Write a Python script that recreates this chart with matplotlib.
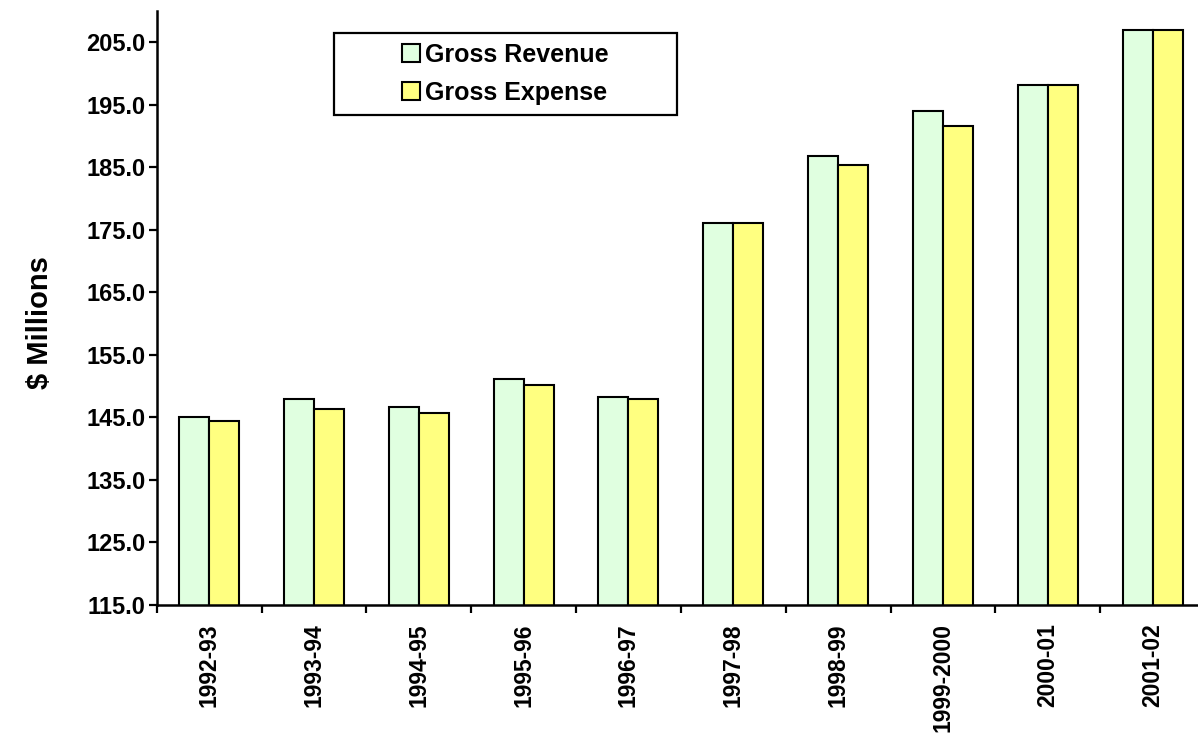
import matplotlib
matplotlib.use("Agg")
import matplotlib.pyplot as plt
from matplotlib.patches import Rectangle
from matplotlib.ticker import FormatStrFormatter
import numpy as np

plt.rcParams['font.family'] = ['Liberation Sans', 'DejaVu Sans']
plt.rcParams['font.weight'] = 'bold'

years = ['1992-93', '1993-94', '1994-95', '1995-96', '1996-97',
         '1997-98', '1998-99', '1999-2000', '2000-01', '2001-02']
revenue = [145.0, 147.9, 146.6, 151.1, 148.2, 176.0, 186.7, 194.0, 198.2, 206.9]
expense = [144.4, 146.3, 145.7, 150.2, 147.9, 176.0, 185.4, 191.5, 198.2, 206.9]

rev_color = '#E0FFE0'
exp_color = '#FFFF80'

fig = plt.figure(figsize=(11.98, 7.5), dpi=100)
# axes run a little past the right edge of the figure
ax = fig.add_axes([156.7 / 1198, 1 - 605 / 750, (1205 - 156.7) / 1198, (605 - 10.7) / 750])

x = np.arange(len(years))
w = 1 / 3.5
ax.bar(x - w / 2, revenue, w, color=rev_color, edgecolor='black', linewidth=1.5,
       label='Gross Revenue', zorder=2)
ax.bar(x + w / 2, expense, w, color=exp_color, edgecolor='black', linewidth=1.5,
       label='Gross Expense', zorder=2)

ax.set_xlim(-0.5, len(years) - 0.5)
ax.set_ylim(115, 210)
ax.set_yticks(np.arange(115, 206, 10))
ax.yaxis.set_major_formatter(FormatStrFormatter('%.1f'))

# category boundaries get the tick marks, labels sit at the centres
ax.set_xticks(np.arange(-0.5, len(years) - 0.5, 1))
ax.set_xticklabels([])
ax.set_xticks(x, minor=True)
ax.set_xticklabels(years, minor=True, rotation=90, fontsize=16.5, fontweight='bold')
ax.tick_params(axis='x', which='major', direction='out', length=6, width=1.6)
ax.tick_params(axis='x', which='minor', length=0, pad=13)
ax.tick_params(axis='y', direction='out', length=6, width=1.6, labelsize=17, pad=2)
for lab in ax.get_yticklabels():
    lab.set_fontweight('bold')

for side in ['top', 'right']:
    ax.spines[side].set_visible(False)
for side in ['left', 'bottom']:
    ax.spines[side].set_linewidth(1.8)
    ax.spines[side].set_color('black')

fig.text(40 / 1198, 1 - 323 / 750, '$ Millions', rotation=90, ha='center', va='center',
         fontsize=21, fontweight='bold')

# legend box
fig.patches.append(Rectangle((334 / 1198, 1 - 115 / 750), 343 / 1198, 82 / 750,
                             transform=fig.transFigure, facecolor='white',
                             edgecolor='black', linewidth=1.6, zorder=3))
leg = fig.legend(loc='center', bbox_to_anchor=(505.5 / 1198, 1 - 74 / 750),
                 frameon=False, fontsize=18, handlelength=0.72, handleheight=0.72,
                 handletextpad=0.2, labelspacing=0.55, borderpad=0)
leg.set_zorder(4)
for t in leg.get_texts():
    t.set_fontweight('bold')
for h in leg.legend_handles:
    h.set_linewidth(1.5)

fig.savefig('out.png', dpi=100)
